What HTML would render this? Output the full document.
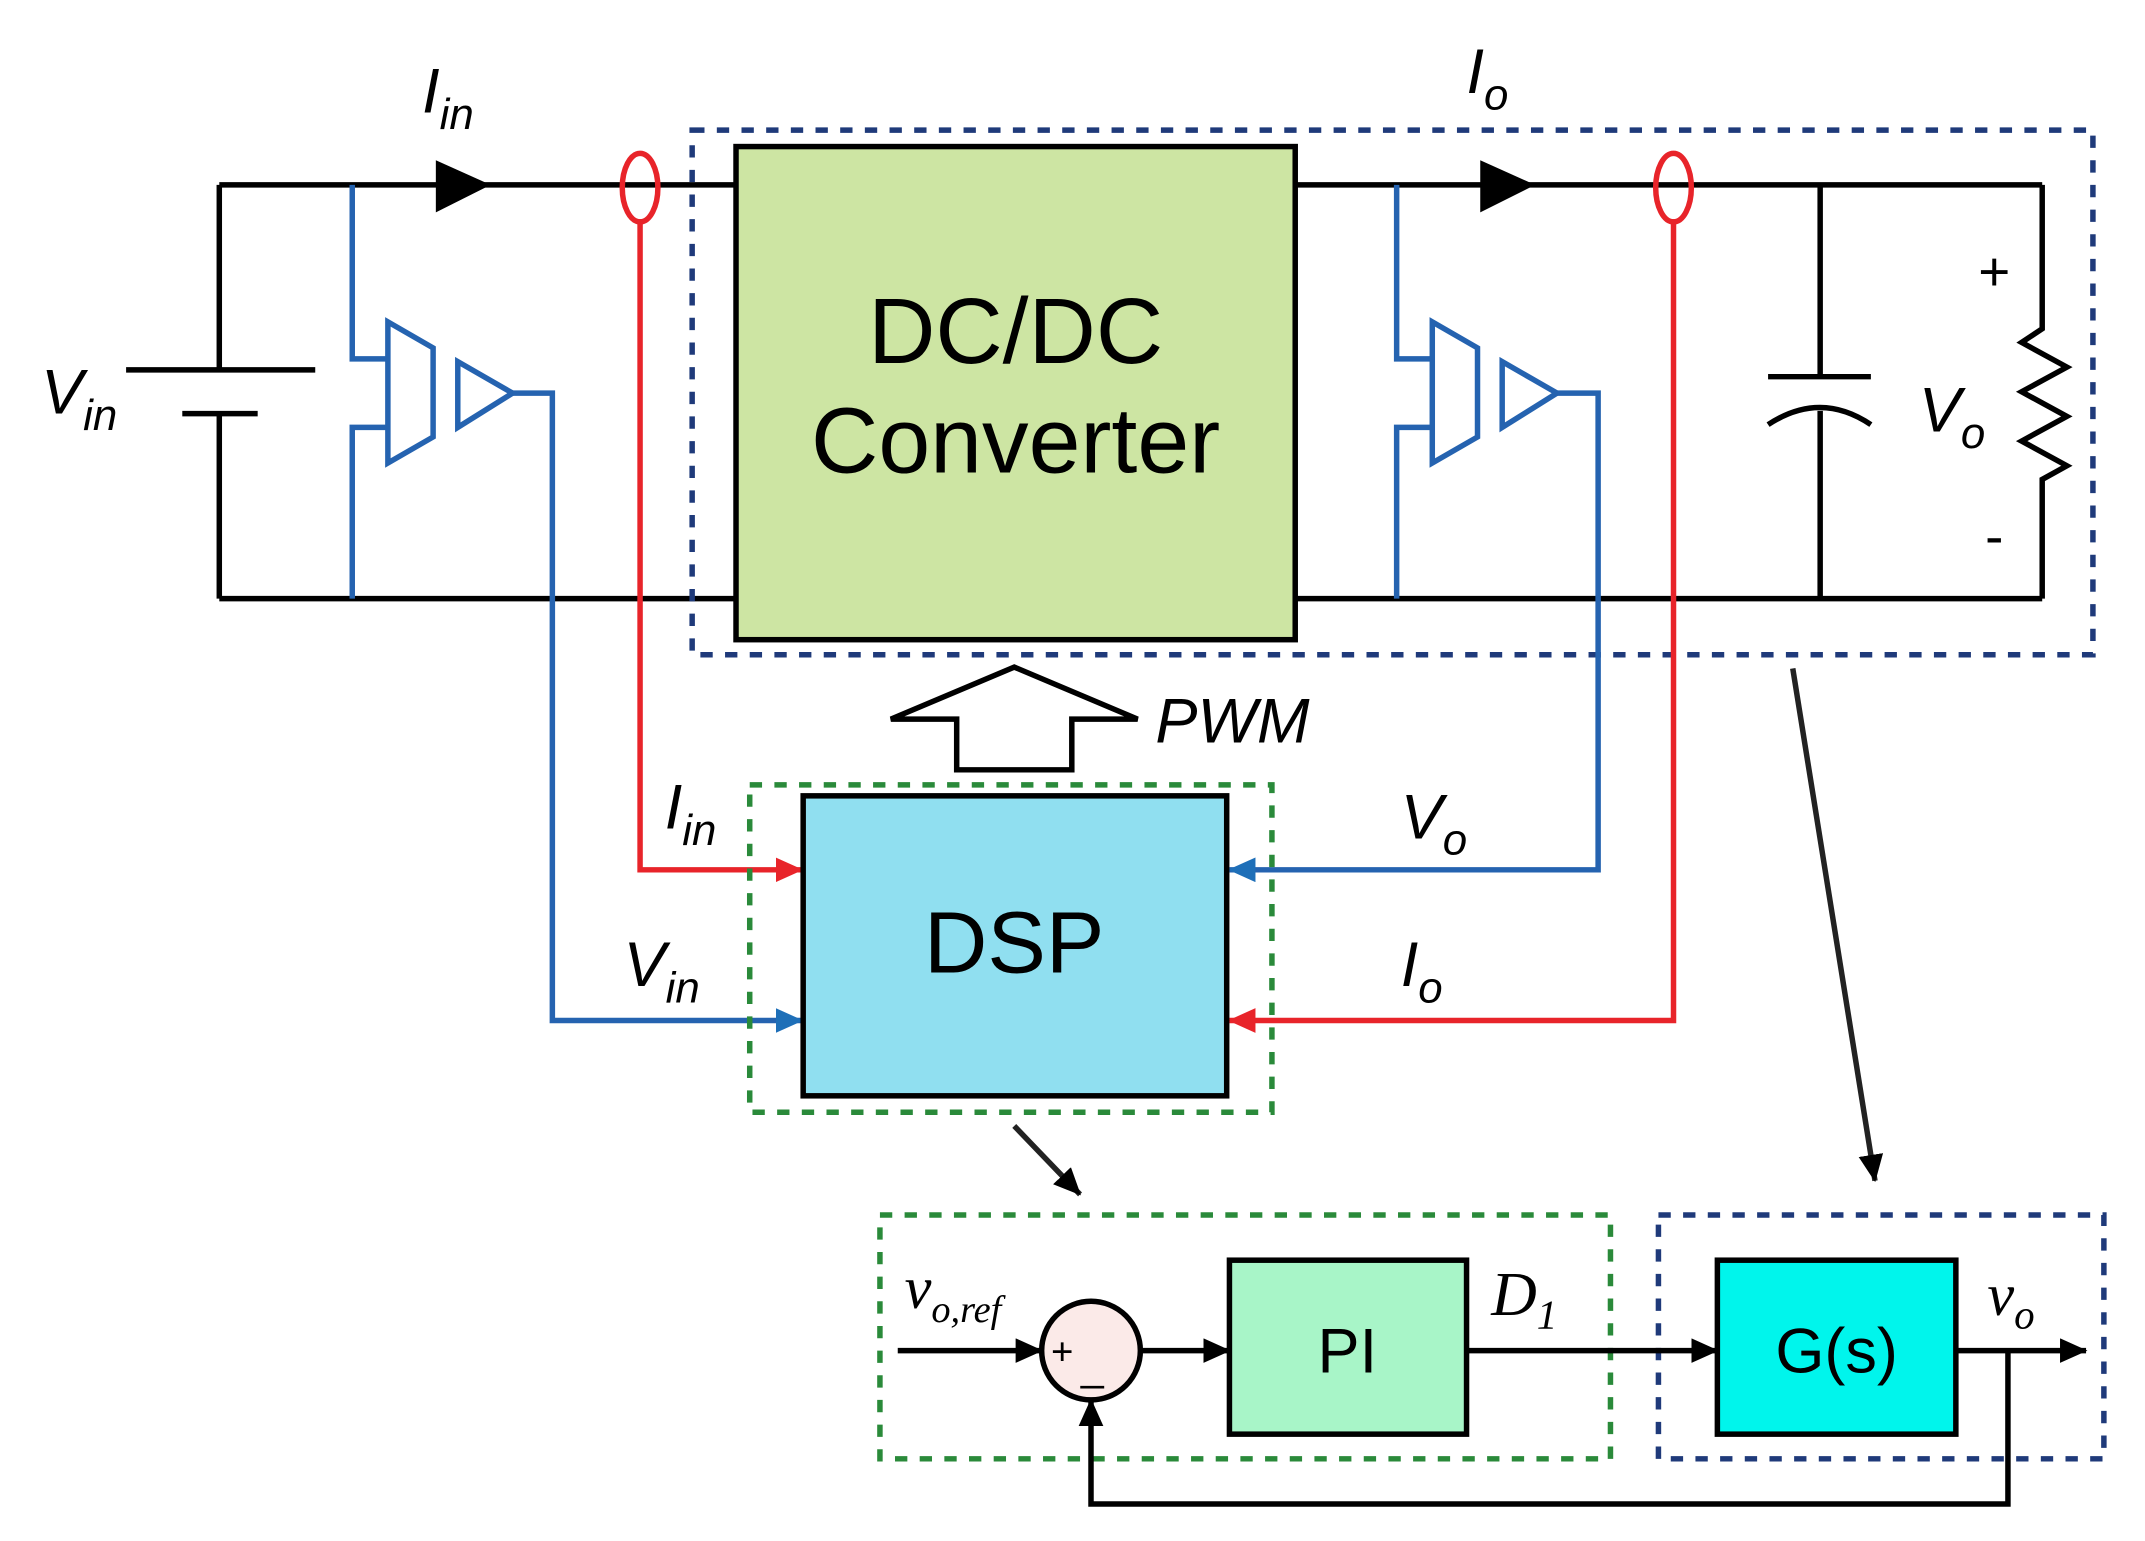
<!DOCTYPE html>
<html><head><meta charset="utf-8"><style>html,body{margin:0;padding:0;background:#fff}svg{display:block}</style></head>
<body>
<svg width="2145" height="1541" viewBox="0 0 1565 1125" preserveAspectRatio="none" xmlns="http://www.w3.org/2000/svg" font-family="Liberation Sans, Arial, sans-serif">
<defs>
<marker id="ar" markerWidth="20" markerHeight="18" refX="19" refY="9" orient="auto" markerUnits="userSpaceOnUse"><path d="M0,0 L20,9 L0,18 z" fill="#e8242a"/></marker>
<marker id="ab" markerWidth="20" markerHeight="18" refX="19" refY="9" orient="auto" markerUnits="userSpaceOnUse"><path d="M0,0 L20,9 L0,18 z" fill="#1e6fb8"/></marker>
<marker id="ak" markerWidth="20" markerHeight="18" refX="19" refY="9" orient="auto" markerUnits="userSpaceOnUse"><path d="M0,0 L20,9 L0,18 z" fill="#000"/></marker>
</defs>
<g stroke="#000" stroke-width="4" fill="none">
<path d="M160,135 H537 M160,437 H537 M160,135 V270 M160,302 V437 M92,270 H230 M133,302 H188"/>
<path d="M945,135 H1490 M945,437 H1490 M1328,135 V275 M1290,275 H1365 M1328,300 V437 M1490,135 V240 L1475,250 L1508,268 L1475,286 L1508,304 L1475,322 L1508,340 L1490,350 V437"/>
<path d="M1290,310 Q1328,285 1365,310"/>
</g>
<path d="M318,117 L358,135 L318,155 z" fill="#000"/>
<path d="M1080,117 L1120,135 L1080,155 z" fill="#000"/>
<rect x="537" y="107" width="408" height="360" fill="#cde5a3" stroke="#000" stroke-width="4"/>
<text x="741" y="265" font-size="68" text-anchor="middle">DC/DC</text>
<text x="741" y="345" font-size="68" text-anchor="middle">Converter</text>
<rect x="505" y="95" width="1022" height="383" fill="none" stroke="#1f3a7a" stroke-width="4" stroke-dasharray="9,9"/>
<g stroke="#2563b0" stroke-width="4" fill="none">
<path d="M257,135 V262 H283 M257,437 V312 H283 M283,235 L316,254 V319 L283,338 z M334,264 L374,287 L334,312 z"/>
<path d="M374,287 H403 V745 H585" marker-end="url(#ab)"/>
<path d="M1019,135 V262 H1045 M1019,437 V312 H1045 M1045,235 L1078,254 V319 L1045,338 z M1096,264 L1136,287 L1096,312 z"/>
<path d="M1136,287 H1166 V635 H897" marker-end="url(#ab)"/>
</g>
<g stroke="#e8242a" stroke-width="4" fill="none">
<ellipse cx="467" cy="137" rx="13" ry="25"/>
<ellipse cx="1221" cy="137" rx="13" ry="25"/>
<path d="M467,160 V635 H585" marker-end="url(#ar)"/>
<path d="M1221,160 V745 H897" marker-end="url(#ar)"/>
</g>
<polygon points="698,562 698,525 650,525 740,487 830,525 782,525 782,562" fill="#fff" stroke="#000" stroke-width="4"/>
<text x="843" y="542" font-size="46" font-style="italic">PWM</text>
<rect x="586" y="581" width="309" height="219" fill="#90dff0" stroke="#000" stroke-width="4"/>
<text x="740" y="710" font-size="64" text-anchor="middle">DSP</text>
<rect x="547" y="573" width="381" height="239" fill="none" stroke="#2a8a3a" stroke-width="4" stroke-dasharray="9,9"/>
<g font-size="46" font-style="italic">
<text x="30" y="302">V<tspan font-size="32" dy="12">in</tspan></text>
<text x="308" y="82">I<tspan font-size="32" dy="12">in</tspan></text>
<text x="1070" y="68">I<tspan font-size="32" dy="12">o</tspan></text>
<text x="1400" y="315">V<tspan font-size="32" dy="12">o</tspan></text>
<text x="485" y="605">I<tspan font-size="32" dy="12">in</tspan></text>
<text x="455" y="720">V<tspan font-size="32" dy="12">in</tspan></text>
<text x="1022" y="612">V<tspan font-size="32" dy="12">o</tspan></text>
<text x="1022" y="720">I<tspan font-size="32" dy="12">o</tspan></text>
</g>
<text x="1455" y="212" font-size="40" text-anchor="middle">+</text>
<text x="1455" y="405" font-size="40" text-anchor="middle">-</text>
<g stroke="#222" stroke-width="4" fill="none">
<path d="M740,822 L788,872" marker-end="url(#ak)"/>
<path d="M1308,488 L1368,862" marker-end="url(#ak)"/>
</g>
<rect x="642" y="887" width="533" height="178" fill="none" stroke="#2a8a3a" stroke-width="4" stroke-dasharray="9,9"/>
<rect x="1210" y="887" width="325" height="178" fill="none" stroke="#1f3a7a" stroke-width="4" stroke-dasharray="9,9"/>
<g stroke="#000" stroke-width="4" fill="none">
<path d="M655,986 H760" marker-end="url(#ak)"/>
<path d="M832,986 H897" marker-end="url(#ak)"/>
<path d="M1070,986 H1253" marker-end="url(#ak)"/>
<path d="M1427,986 H1522" marker-end="url(#ak)"/>
<path d="M1465,986 V1098 H796 V1022" marker-end="url(#ak)"/>
</g>
<circle cx="796" cy="986" r="36" fill="#fbeae8" stroke="#000" stroke-width="4"/>
<text x="775" y="996" font-size="28" text-anchor="middle">+</text>
<text x="797" y="1008" font-size="30" text-anchor="middle">_</text>
<rect x="897" y="920" width="173" height="127" fill="#a8f5c8" stroke="#000" stroke-width="4"/>
<text x="983" y="1002" font-size="46" text-anchor="middle">PI</text>
<rect x="1253" y="920" width="174" height="127" fill="#00f5ec" stroke="#000" stroke-width="4"/>
<text x="1340" y="1002" font-size="46" text-anchor="middle">G(s)</text>
<g font-family="Liberation Serif, Times New Roman, serif" font-style="italic">
<text x="660" y="955" font-size="44">v<tspan font-size="28" dy="10">o,ref</tspan></text>
<text x="1088" y="960" font-size="46">D<tspan font-size="30" dy="10">1</tspan></text>
<text x="1450" y="960" font-size="44">v<tspan font-size="30" dy="10">o</tspan></text>
</g>
</svg>
</body></html>
